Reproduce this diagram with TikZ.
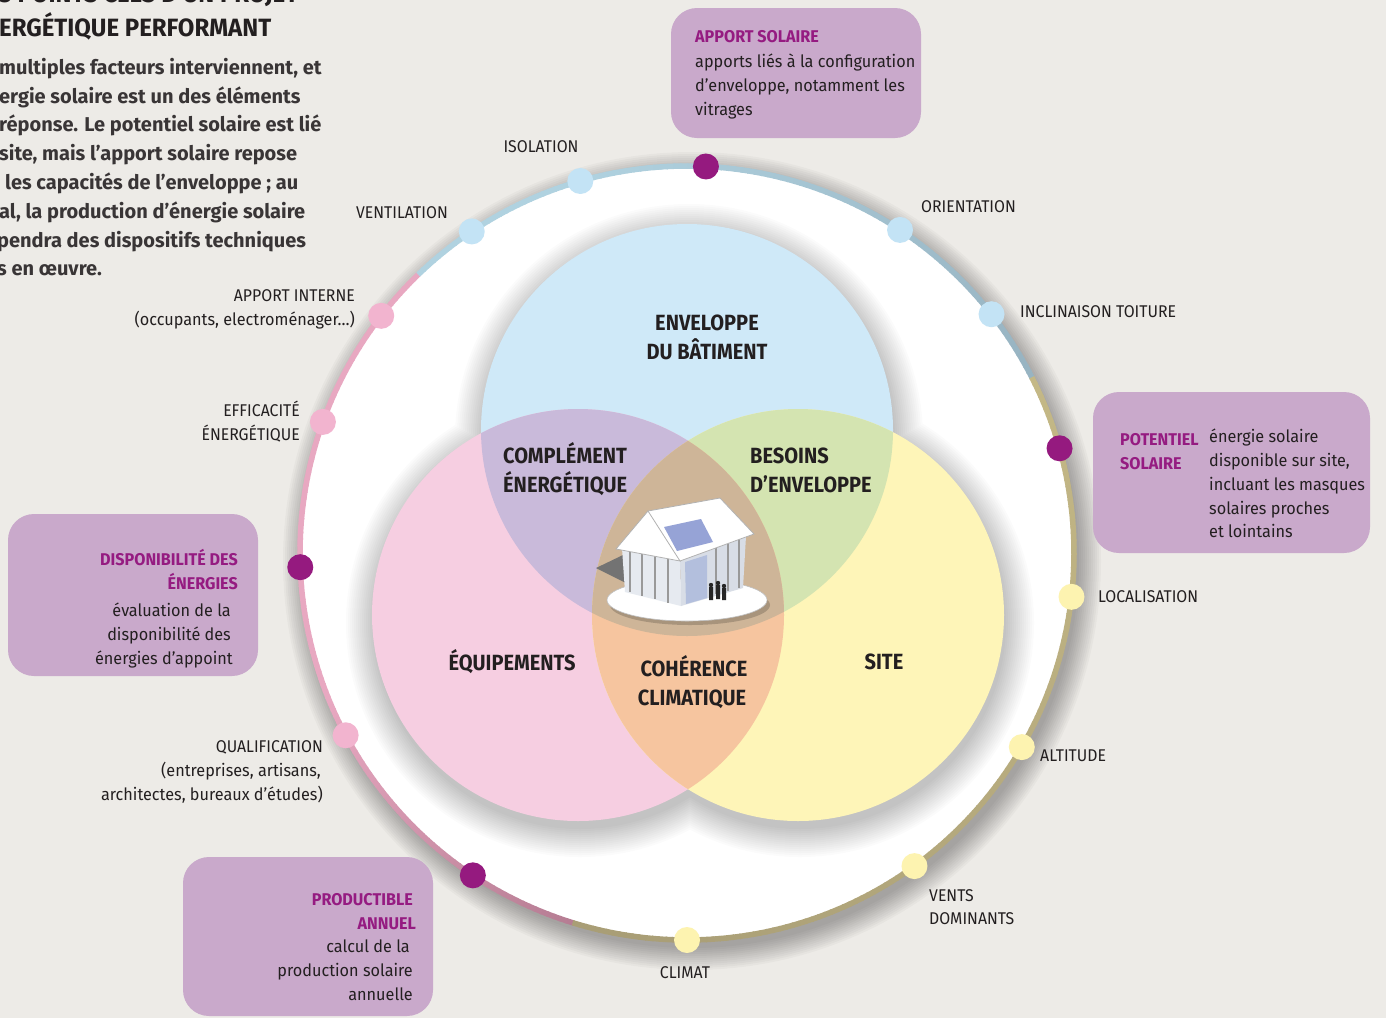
\documentclass[tikz,border=0pt]{standalone}
\usepackage{fontspec}
\setmainfont{Fira Sans}
\newfontfamily\labf[FakeStretch=0.93]{Fira Sans}
\newfontfamily\bodyf[FakeStretch=0.955]{Fira Sans}
\newfontfamily\titf[FakeStretch=0.95]{Fira Sans}
\newfontfamily\vennf[FakeStretch=0.91]{Fira Sans}
\newfontfamily\headf[FakeStretch=0.96]{Fira Sans}
\usetikzlibrary{calc}
\definecolor{bg}{HTML}{EDEBE7}
\definecolor{txt}{HTML}{231F20}
\definecolor{boxfill}{HTML}{C9A9CB}
\definecolor{titlecol}{HTML}{951B81}
\definecolor{dotPurple}{HTML}{951A7F}
\definecolor{dotBlue}{HTML}{C3E3F5}
\definecolor{dotPink}{HTML}{F2B4CF}
\definecolor{dotYellow}{HTML}{FDF3B0}
\definecolor{venBlue}{HTML}{CFE9F8}
\definecolor{venPink}{HTML}{F6CEE1}
\definecolor{venYellow}{HTML}{FEF5B8}
\definecolor{venPurple}{HTML}{C9BADA}
\definecolor{venGreen}{HTML}{D4E4B1}
\definecolor{venOrange}{HTML}{F6C59F}
\definecolor{venTan}{HTML}{CEB598}
\definecolor{ringBlueL}{HTML}{B0D2E0}
\definecolor{ringBlueD}{HTML}{98B4C2}
\definecolor{ringTanL}{HTML}{C4B886}
\definecolor{ringTanD}{HTML}{A99E76}
\definecolor{ringPinkL}{HTML}{E8A8C1}
\definecolor{ringPinkD}{HTML}{B67D93}
\definecolor{houseA}{HTML}{E6EAF0}
\definecolor{houseB}{HTML}{D8DDE6}
\definecolor{glass}{HTML}{B3BFDD}
\definecolor{panel}{HTML}{96A3D6}
\begin{document}
\begin{tikzpicture}[x=1pt,y=-1pt,
  lab/.style={inner sep=0pt, font=\labf\fontsize{17}{24}\selectfont, text=txt},
  body/.style={inner sep=0pt, font=\bodyf\fontsize{17}{24}\selectfont, text=txt},
  btitle/.style={inner sep=0pt, font=\titf\bfseries\fontsize{17}{24}\selectfont, text=titlecol},
  venn/.style={inner sep=0pt, font=\vennf\bfseries\fontsize{22}{29}\selectfont, text=txt},
  para/.style={inner sep=0pt, font=\rmfamily\bfseries\fontsize{20}{29}\selectfont, text=txt!90},
  head/.style={inner sep=0pt, font=\headf\bfseries\fontsize{25}{30}\selectfont, text=txt},
  infobox/.style={fill=boxfill, rounded corners=26pt},
  dotbase/.style={circle, minimum size=26pt, inner sep=0pt},
  bluedot/.style={dotbase, fill=dotBlue},
  pinkdot/.style={dotbase, fill=dotPink},
  yellowdot/.style={dotbase, fill=dotYellow},
  purpledot/.style={dotbase, fill=dotPurple},
]
\def\cx{687}\def\cy{553}\def\R{387}
\useasboundingbox (0,0) rectangle (1386,1018);
\clip (0,0) rectangle (1386,1018);
\fill[bg] (0,0) rectangle (1386,1018);

% ---------- text at top left ----------
\node[head, anchor=base west] (h0) at (-2,2) {S POINTS CLÉS D’UN PROJET};
\node[head, anchor=base west] (h1) at (-1,36) {ERGÉTIQUE PERFORMANT};
\node[para, anchor=base west] (p1) at (-1,74) {multiples facteurs interviennent, et};
\node[para, anchor=base west] (p2) at (-1,103) {ergie solaire est un des éléments};
\node[para, anchor=base west] (p3) at (-1,131) {réponse. Le potentiel solaire est lié};
\node[para, anchor=base west] (p4) at (-1,160) {site, mais l’apport solaire repose};
\node[para, anchor=base west] (p5) at (5,189) {les capacités de l’enveloppe ; au};
\node[para, anchor=base west] (p6) at (-1,218) {al, la production d’énergie solaire};
\node[para, anchor=base west] (p7) at (-3,247) {pendra des dispositifs techniques};
\node[para, anchor=base west] (p8) at (-3,275) {s en œuvre.};

% ---------- outer shadow ----------
\foreach \k [evaluate=\k as \rr using 387+\k] in {22,20,...,0}
  \fill[black, opacity=0.028] (\cx+5,\cy+8) circle[radius=\rr pt];
\fill[white] (\cx,\cy) circle[radius=387pt];

% ---------- inner shadow of the Venn union ----------
\foreach \k [evaluate=\k as \rr using 206+\k] in {28,26,...,0}
  \fill[black, opacity=0.016] (580,623) circle[radius=\rr pt] (800,623) circle[radius=\rr pt] (689,438) circle[radius=\rr pt];

% ---------- Venn ----------
\coordinate (vB) at (687,430);
\coordinate (vP) at (578,615);
\coordinate (vY) at (798,615);
\def\vr{206pt}
\fill[venBlue] (vB) circle[radius=\vr];
\fill[venPink] (vP) circle[radius=\vr];
\fill[venYellow] (vY) circle[radius=\vr];
\begin{scope}
  \clip (vB) circle[radius=\vr];
  \fill[venPurple] (vP) circle[radius=\vr];
  \fill[venGreen] (vY) circle[radius=\vr];
\end{scope}
\begin{scope}
  \clip (vP) circle[radius=\vr];
  \fill[venOrange] (vY) circle[radius=\vr];
  \clip (vY) circle[radius=\vr];
  \fill[venTan] (vB) circle[radius=\vr];
\end{scope}

% ---------- house ----------
\fill[black, opacity=0.18] (690,605) ellipse[x radius=80pt, y radius=20pt];
\fill[white] (687,600) ellipse[x radius=80pt, y radius=21pt];
\draw[black!25, line width=0.6pt] (687,600) ellipse[x radius=80pt, y radius=21pt];
\fill[black!55] (596,568) -- (623,555) -- (626,583) -- cycle;
\fill[houseA] (622,548) -- (648,515) -- (680,558) -- (681,606) -- (625,592) -- cycle;
\fill[houseB] (680,558) -- (746,536) -- (743,588) -- (681,606) -- cycle;
\fill[glass] (685,562) -- (707,555) -- (707,598) -- (686,604) -- cycle;
\foreach \x/\ya/\yb in {630/552/592, 642/538/596, 655/530/599, 668/540/603}
  \draw[black!40, line width=1.6pt] (\x,\ya) -- (\x,\yb);
\foreach \x/\ya/\yb in {716/547/594, 728/543/591, 739/539/588}
  \draw[black!40, line width=1.6pt] (\x,\ya) -- (\x,\yb);
\fill[white] (616,549) -- (648,511) -- (720,498) -- (754,534) -- (680,561) -- cycle;
\draw[black!30, line width=0.8pt] (616,549) -- (648,511) -- (680,561) -- cycle;
\draw[black!30, line width=0.8pt] (648,511) -- (720,498) -- (754,534) -- (680,561);
\fill[panel] (664,527) -- (701,519) -- (713,542) -- (677,551) -- cycle;
\fill[black!85] (709,587) rectangle (713,600) (716,585) rectangle (720,599) (722,588) rectangle (726,600);
\fill[black!85] (711,585) circle[radius=2.2pt] (718,583) circle[radius=2.2pt] (724,586) circle[radius=2.2pt];

% ---------- ring ----------
\foreach \a [evaluate=\a as \p using {min(100,max(0,(\a-107)*2))}] in {107,...,225}
  \draw[line width=5.5pt, color=ringPinkL!\p!ringPinkD] plot[domain=\a:\a+1.2, samples=3] ({\cx+\R*cos(\x)},{\cy+\R*sin(\x)});
\foreach \a [evaluate=\a as \p using {min(100,max(0,(330-\a)*1.3))}] in {226,...,332}
  \draw[line width=5.5pt, color=ringBlueL!\p!ringBlueD] plot[domain=\a:\a+1.2, samples=3] ({\cx+\R*cos(\x)},{\cy+\R*sin(\x)});
\foreach \a [evaluate=\a as \p using {min(100,max(0,(\a-333)*0.8))}] in {333,...,466}
  \draw[line width=5.5pt, color=ringTanD!\p!ringTanL] plot[domain=\a:\a+1.2, samples=3] ({\cx+\R*cos(\x)},{\cy+\R*sin(\x)});

% ---------- dots ----------
\node[bluedot] (d-iso) at ({\cx+\R*cos(254)},{\cy+\R*sin(254)}) {};
\node[purpledot] (d-aps) at ({\cx+\R*cos(-87.2)},{\cy+\R*sin(-87.2)}) {};
\node[bluedot] (d-ori) at ({\cx+\R*cos(-56.6)},{\cy+\R*sin(-56.6)}) {};
\node[bluedot] (d-inc) at ({\cx+\R*cos(-38.1)},{\cy+\R*sin(-38.1)}) {};
\node[purpledot] (d-pot) at ({\cx+\R*cos(-15.7)},{\cy+\R*sin(-15.7)}) {};
\node[yellowdot] (d-loc) at ({\cx+\R*cos(6.5)},{\cy+\R*sin(6.5)}) {};
\node[yellowdot] (d-alt) at ({\cx+\R*cos(30.1)},{\cy+\R*sin(30.1)}) {};
\node[yellowdot] (d-ven) at ({\cx+\R*cos(54)},{\cy+\R*sin(54)}) {};
\node[yellowdot] (d-cli) at ({\cx+\R*cos(90)},{\cy+\R*sin(90)}) {};
\node[purpledot] (d-pro) at ({\cx+\R*cos(123.6)},{\cy+\R*sin(123.6)}) {};
\node[pinkdot] (d-qua) at ({\cx+\R*cos(151.9)},{\cy+\R*sin(151.9)}) {};
\node[purpledot] (d-dis) at ({\cx+\R*cos(177.9)},{\cy+\R*sin(177.9)}) {};
\node[pinkdot] (d-eff) at ({\cx+\R*cos(199.8)},{\cy+\R*sin(199.8)}) {};
\node[pinkdot] (d-int) at ({\cx+\R*cos(217.8)},{\cy+\R*sin(217.8)}) {};
\node[bluedot] (d-vnt) at ({\cx+\R*cos(236.2)},{\cy+\R*sin(236.2)}) {};

% ---------- labels around ----------
\node[lab, anchor=base] (l-iso) at (541,152) {ISOLATION};
\node[lab, anchor=base east] (l-vnt) at (448,218) {VENTILATION};
\node[lab, anchor=base west] (l-ori) at (921,212) {ORIENTATION};
\node[lab, anchor=base west] (l-inc) at (1020,317) {INCLINAISON TOITURE};
\node[lab, anchor=base east] (l-int1) at (355,301) {APPORT INTERNE};
\node[body, anchor=base east] (l-int2) at (355,325) {(occupants, electroménager…)};
\node[lab, anchor=base east] (l-eff1) at (300,416) {EFFICACITÉ};
\node[lab, anchor=base east] (l-eff2) at (300,440) {ÉNERGÉTIQUE};
\node[lab, anchor=base east] (l-qua1) at (323,752) {QUALIFICATION};
\node[body, anchor=base east] (l-qua2) at (321,776) {(entreprises, artisans,};
\node[body, anchor=base east] (l-qua3) at (323,800) {architectes, bureaux d’études)};
\node[lab, anchor=base west] (l-loc) at (1098,602) {LOCALISATION};
\node[lab, anchor=base west] (l-alt) at (1040,761) {ALTITUDE};
\node[lab, anchor=base west] (l-ven1) at (929,901) {VENTS};
\node[lab, anchor=base west] (l-ven2) at (929,924) {DOMINANTS};
\node[lab, anchor=base] (l-cli) at (685,978) {CLIMAT};

% ---------- Venn labels ----------
\node[venn, anchor=base] (v-env1) at (707,330) {ENVELOPPE};
\node[venn, anchor=base] (v-env2) at (707,359) {DU BÂTIMENT};
\node[venn, anchor=base west] (v-com1) at (503,463) {COMPLÉMENT};
\node[venn, anchor=base west] (v-com2) at (503,492) {ÉNERGÉTIQUE};
\node[venn, anchor=base west] (v-bes1) at (750,463) {BESOINS};
\node[venn, anchor=base west] (v-bes2) at (750,492) {D’ENVELOPPE};
\node[venn, anchor=base] (v-equ) at (512,670) {ÉQUIPEMENTS};
\node[venn, anchor=base] (v-coh1) at (694,676) {COHÉRENCE};
\node[venn, anchor=base] (v-coh2) at (692,705) {CLIMATIQUE};
\node[venn, anchor=base] (v-sit) at (884,669) {SITE};

% ---------- info boxes ----------
\fill[infobox] (671,8) rectangle (921,138);
\node[btitle, anchor=base west] (b1t) at (695,42) {APPORT SOLAIRE};
\node[body, anchor=base west] (b1a) at (695,67) {apports liés à la configuration};
\node[body, anchor=base west] (b1b) at (695,91) {d’enveloppe, notamment les};
\node[body, anchor=base west] (b1c) at (695,115) {vitrages};

\fill[infobox] (1093,392) rectangle (1370,553);
\node[btitle, anchor=base west] (b2t1) at (1120,445) {POTENTIEL};
\node[btitle, anchor=base west] (b2t2) at (1120,469) {SOLAIRE};
\node[body, anchor=base west] (b2a) at (1209,442) {énergie solaire};
\node[body, anchor=base west] (b2b) at (1209,466) {disponible sur site,};
\node[body, anchor=base west] (b2c) at (1209,490) {incluant les masques};
\node[body, anchor=base west] (b2d) at (1209,514) {solaires proches};
\node[body, anchor=base west] (b2e) at (1209,537) {et lointains};

\fill[infobox] (8,514) rectangle (258,676);
\node[btitle, anchor=base east] (b3t1) at (238,565) {DISPONIBILITÉ DES};
\node[btitle, anchor=base east] (b3t2) at (238,589) {ÉNERGIES};
\node[body, anchor=base east] (b3a) at (231,616) {évaluation de la};
\node[body, anchor=base east] (b3b) at (231,640) {disponibilité des};
\node[body, anchor=base east] (b3c) at (233,664) {énergies d’appoint};

\fill[infobox] (183,857) rectangle (433,1016);
\node[btitle, anchor=base east] (b4t1) at (413,905) {PRODUCTIBLE};
\node[btitle, anchor=base east] (b4t2) at (416,929) {ANNUEL};
\node[body, anchor=base east] (b4a) at (410,952) {calcul de la};
\node[body, anchor=base east] (b4b) at (413,976) {production solaire};
\node[body, anchor=base east] (b4c) at (413,1000) {annuelle};
\end{tikzpicture}
\end{document}
